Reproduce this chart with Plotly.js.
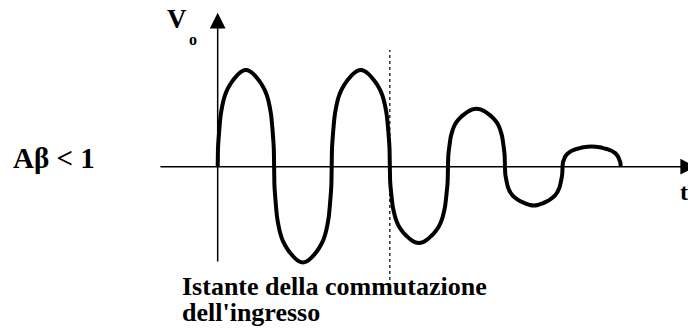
<!DOCTYPE html>
<html>
<head>
<meta charset="utf-8">
<script src="https://cdn.plot.ly/plotly-3.0.1.min.js"></script>
<style>html,body{margin:0;padding:0;background:#fff;}#chart{width:688px;height:332px;}</style>
</head>
<body>
<div id="chart"></div>
<script>
// Zero-crossing instants of Vo (time units: one half-period ≈ 1)
const crossings = [0, 0.98, 1.98, 2.99, 4.0, 4.99, 5.99, 7.0];
// Peak value of each half-wave (Vo units, first peak = 1)
const lobeAmps = [1.0, -0.99, 1.0, -0.79, 0.60, -0.40, 0.21];
// Shape of one half-wave (fraction of half-period, fraction of peak)
const profileT = [0, 0.005, 0.01, 0.02, 0.035, 0.05, 0.075, 0.1, 0.13, 0.16, 0.22, 0.26, 0.3, 0.36, 0.43, 0.5,
                  0.57, 0.64, 0.7, 0.74, 0.78, 0.84, 0.87, 0.9, 0.925, 0.95, 0.965, 0.98, 0.99, 0.995, 1];
const profileV = [0, 0.18, 0.24, 0.32, 0.43, 0.52, 0.61, 0.68, 0.74, 0.785, 0.85, 0.885, 0.915, 0.955, 0.988, 1,
                  0.988, 0.955, 0.915, 0.885, 0.85, 0.785, 0.74, 0.68, 0.61, 0.52, 0.43, 0.32, 0.24, 0.18, 0];
// Switching instant of the input
const switchT = 2.99;
// Axis extents
const tAxis = [-1.02, 8.31];
const vAxis = [-0.996, 1.593];
const switchLine = [-1.172, 1.207];
// Labels
const labelCond = 'Aβ < 1';
const labelV = 'V';
const labelVsub = 'o';
const labelT = 't';
const labelSwitch1 = 'Istante della commutazione';
const labelSwitch2 = "dell'ingresso";

const xs = [], ys = [];
for (let k = 0; k < lobeAmps.length; k++) {
  const t0 = crossings[k], t1 = crossings[k + 1];
  for (let j = (k === 0 ? 0 : 1); j < profileT.length; j++) {
    xs.push(t0 + profileT[j] * (t1 - t0));
    ys.push(lobeAmps[k] * profileV[j]);
  }
}

const font = {family: 'Liberation Serif, Times New Roman, serif', color: '#000', weight: 'bold'};
const W = 688, H = 332;
function px(x) { return x / W; }
function py(y) { return 1 - y / H; }

const data = [{
  x: xs, y: ys, type: 'scatter', mode: 'lines',
  line: {color: '#000', width: 4, shape: 'spline', smoothing: 0.5},
  hoverinfo: 'skip', showlegend: false
}];

const layout = {
  width: W, height: H,
  margin: {l: 0, r: 0, t: 0, b: 0},
  paper_bgcolor: '#fff', plot_bgcolor: '#fff',
  showlegend: false,
  xaxis: {range: [-3.781, 8.169], visible: false, fixedrange: true},
  yaxis: {range: [-1.709, 1.724], visible: false, fixedrange: true},
  shapes: [
    {type: 'line', xref: 'x', yref: 'y', x0: switchT, x1: switchT, y0: switchLine[0], y1: switchLine[1],
     line: {color: '#000', width: 1.2, dash: 'dot'}}
  ],
  annotations: [
    {xref: 'x', yref: 'y', axref: 'x', ayref: 'y', x: tAxis[1], y: 0, ax: tAxis[0], ay: 0, text: '',
     showarrow: true, arrowhead: 2, arrowsize: 2.1, arrowwidth: 1.5, arrowcolor: '#000', standoff: 0},
    {xref: 'x', yref: 'y', axref: 'x', ayref: 'y', x: 0, y: vAxis[1], ax: 0, ay: vAxis[0], text: '',
     showarrow: true, arrowhead: 2, arrowsize: 2.1, arrowwidth: 1.5, arrowcolor: '#000', standoff: 0},
    {xref: 'paper', yref: 'paper', x: px(11), y: py(157.5), xanchor: 'left', yanchor: 'middle',
     text: labelCond, showarrow: false, font: Object.assign({size: 29}, font)},
    {xref: 'paper', yref: 'paper', x: px(165), y: py(19.5), xanchor: 'left', yanchor: 'middle',
     text: labelV, showarrow: false, font: Object.assign({size: 27}, font)},
    {xref: 'paper', yref: 'paper', x: px(187), y: py(39), xanchor: 'left', yanchor: 'middle',
     text: labelVsub, showarrow: false, font: Object.assign({size: 16}, font)},
    {xref: 'paper', yref: 'paper', x: px(678), y: py(192), xanchor: 'left', yanchor: 'middle',
     text: labelT, showarrow: false, font: Object.assign({size: 24}, font)},
    {xref: 'paper', yref: 'paper', x: px(180), y: py(286), xanchor: 'left', yanchor: 'middle',
     text: labelSwitch1, showarrow: false, font: Object.assign({size: 26}, font)},
    {xref: 'paper', yref: 'paper', x: px(180), y: py(312), xanchor: 'left', yanchor: 'middle',
     text: labelSwitch2, showarrow: false, font: Object.assign({size: 26}, font)}
  ]
};

Plotly.newPlot('chart', data, layout, {staticPlot: true, displayModeBar: false});
</script>
</body>
</html>
